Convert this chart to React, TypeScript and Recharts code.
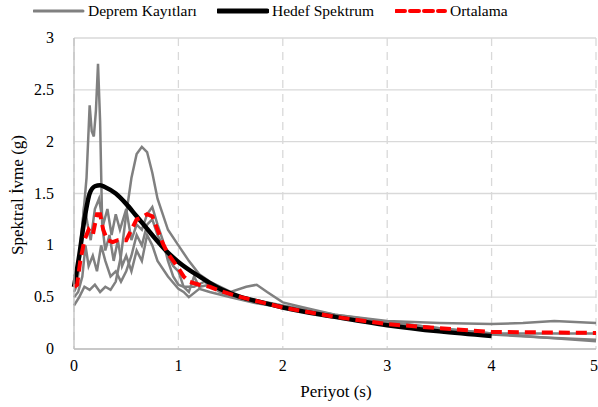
import { LineChart, Line, XAxis, YAxis, CartesianGrid, Legend } from "recharts"

// Deprem kayıtları (T, Sa)
const kayit1 = [
  [0, 0.55], [0.03, 0.62], [0.06, 0.9], [0.09, 1.3], [0.12, 1.65], [0.15, 2.35], [0.17, 2.1], [0.19, 2.05],
  [0.21, 2.3], [0.23, 2.75], [0.25, 2.2], [0.27, 1.2], [0.3, 0.95], [0.34, 1.1], [0.38, 0.85], [0.42, 1.05],
  [0.46, 0.8], [0.5, 0.9], [0.55, 0.75], [0.6, 0.95], [0.65, 0.85], [0.7, 1.1], [0.75, 1.0], [0.8, 0.85],
  [0.9, 0.7], [1.0, 0.58], [1.05, 0.55], [1.1, 0.5], [1.2, 0.58], [1.3, 0.55], [1.5, 0.5], [1.75, 0.44],
  [2, 0.4], [2.5, 0.32], [3, 0.26], [3.5, 0.2], [4, 0.15], [4.5, 0.11], [5, 0.075],
]
const kayit2 = [
  [0, 0.42], [0.05, 0.5], [0.1, 0.6], [0.15, 0.57], [0.2, 0.62], [0.25, 0.55], [0.3, 0.6], [0.35, 0.57],
  [0.4, 0.65], [0.45, 0.9], [0.5, 1.3], [0.55, 1.65], [0.6, 1.88], [0.65, 1.95], [0.7, 1.9], [0.75, 1.7],
  [0.8, 1.45], [0.9, 1.15], [1.0, 1.0], [1.1, 0.85], [1.2, 0.72], [1.3, 0.65], [1.5, 0.55], [1.65, 0.6],
  [1.75, 0.62], [1.85, 0.55], [2, 0.45], [2.2, 0.4], [2.5, 0.33], [3, 0.27], [3.5, 0.25], [4, 0.24],
  [4.3, 0.25], [4.6, 0.27], [5, 0.25],
]
const kayit3 = [
  [0, 0.7], [0.04, 0.8], [0.07, 1.1], [0.1, 1.4], [0.13, 1.2], [0.16, 1.05], [0.2, 1.35], [0.24, 1.45],
  [0.28, 1.2], [0.32, 1.35], [0.36, 1.1], [0.4, 1.3], [0.44, 1.15], [0.5, 1.35], [0.55, 1.05], [0.6, 1.2],
  [0.65, 1.15], [0.7, 1.3], [0.75, 1.37], [0.8, 1.2], [0.85, 1.05], [0.9, 0.85], [0.95, 0.7], [1.0, 0.62],
  [1.05, 0.6], [1.15, 0.6], [1.25, 0.65], [1.4, 0.55], [1.6, 0.5], [2, 0.42], [2.5, 0.33], [3, 0.26],
  [3.5, 0.2], [4, 0.15], [4.5, 0.15], [5, 0.15],
]
const kayit4 = [
  [0, 0.5], [0.04, 0.55], [0.08, 0.7], [0.11, 1.0], [0.14, 0.8], [0.18, 0.9], [0.22, 0.75], [0.26, 1.0],
  [0.3, 0.85], [0.35, 0.7], [0.4, 0.75], [0.45, 0.65], [0.5, 0.75], [0.55, 0.9], [0.6, 1.1], [0.65, 1.0],
  [0.7, 1.2], [0.75, 1.25], [0.8, 1.1], [0.85, 1.0], [0.9, 0.9], [0.95, 0.8], [1.0, 0.75], [1.05, 0.6],
  [1.1, 0.55], [1.15, 0.7], [1.2, 0.6], [1.3, 0.62], [1.4, 0.55], [1.5, 0.52], [1.7, 0.47], [2, 0.4],
  [2.5, 0.31], [3, 0.24], [3.5, 0.19], [4, 0.14], [4.5, 0.11], [5, 0.09],
]
const hedef = [
  [0, 0.6], [0.05, 0.9], [0.1, 1.25], [0.15, 1.5], [0.2, 1.57], [0.25, 1.58], [0.3, 1.56], [0.4, 1.5],
  [0.5, 1.4], [0.6, 1.28], [0.7, 1.16], [0.8, 1.04], [0.9, 0.93], [1.0, 0.84], [1.2, 0.7], [1.4, 0.58],
  [1.6, 0.5], [1.8, 0.45], [2, 0.4], [2.5, 0.31], [3, 0.23], [3.5, 0.17], [4, 0.125],
]
const ortalama = [
  [0, 0.6], [0.03, 0.62], [0.06, 0.85], [0.1, 1.05], [0.14, 1.15], [0.18, 1.1], [0.22, 1.3], [0.25, 1.3],
  [0.28, 1.15], [0.32, 1.05], [0.37, 1.03], [0.42, 1.05], [0.5, 1.05], [0.55, 1.15], [0.6, 1.25], [0.65, 1.27],
  [0.7, 1.3], [0.75, 1.28], [0.8, 1.15], [0.85, 1.02], [0.9, 0.92], [0.95, 0.85], [1.0, 0.78], [1.05, 0.7],
  [1.1, 0.65], [1.2, 0.62], [1.3, 0.6], [1.4, 0.56], [1.6, 0.5], [1.8, 0.45], [2, 0.4], [2.5, 0.31],
  [3, 0.24], [3.5, 0.2], [4, 0.165], [4.5, 0.16], [5, 0.155],
]

const xTicks = [0, 1, 2, 3, 4, 5]
const yTicks = [0, 0.5, 1, 1.5, 2, 2.5, 3]

const toPts = (a: number[][]) => a.map(([t, sa]) => ({ t, sa }))
const kayitlar = [kayit1, kayit2, kayit3, kayit4].map(toPts)

const font = "'Liberation Serif', 'Times New Roman', serif"
const gray = "#808080"
const txt = { fontFamily: font, fontSize: 16, fill: "#000" }
const title = { fontFamily: font, fontSize: 17, fill: "#000" }

function LegendBox() {
  const items = [
    { label: "Deprem Kayıtları", color: gray, w: 3, dash: undefined, x: 33 },
    { label: "Hedef Spektrum", color: "#000", w: 5, dash: undefined, x: 217 },
    { label: "Ortalama", color: "#ff0000", w: 4, dash: "9 5", x: 395 },
  ]
  return (
    <div style={{ position: "relative", height: 26, fontFamily: font, fontSize: 15.5, color: "#000" }}>
      {items.map((it) => (
        <div key={it.label} style={{ position: "absolute", left: it.x, top: 0, display: "flex", alignItems: "center", whiteSpace: "nowrap" }}>
          <svg width={52} height={12}>
            <line x1={1} y1={6} x2={50} y2={6} stroke={it.color} strokeWidth={it.w} strokeDasharray={it.dash} strokeLinecap="round" />
          </svg>
          <span style={{ marginLeft: 3 }}>{it.label}</span>
        </div>
      ))}
    </div>
  )
}

function XTick({ x, y, payload }: any) {
  return (
    <text x={x} y={y + 14} textAnchor="middle" style={txt}>
      {payload.value}
    </text>
  )
}

function YTick({ x, y, payload }: any) {
  return (
    <text x={x - 2} y={y + 5} textAnchor="end" style={txt}>
      {payload.value}
    </text>
  )
}

export default function App() {
  return (
    <div style={{ position: "absolute", left: 0, top: 0, width: 598, height: 407, background: "#fff", fontFamily: font }}>
      <LineChart width={598} height={407} margin={{ top: 12, right: 2, left: 0, bottom: 0 }} style={{ fontFamily: font }}>
        <CartesianGrid horizontal={true} vertical={false} stroke="#d9d9d9" strokeWidth={1.3} />
        <CartesianGrid horizontal={false} vertical={true} stroke="#d9d9d9" strokeWidth={1.3} strokeDasharray="8 6" />
        <XAxis
          type="number"
          dataKey="t"
          domain={[0, 5]}
          ticks={xTicks}
          allowDuplicatedCategory={false}
          tick={<XTick />}
          tickLine={false}
          axisLine={{ stroke: "#bfbfbf", strokeWidth: 1.3 }}
          tickMargin={2}
          height={58}
        />
        <YAxis
          type="number"
          domain={[0, 3]}
          ticks={yTicks}
          tick={<YTick />}
          tickLine={false}
          axisLine={{ stroke: "#bfbfbf", strokeWidth: 1.3 }}
          tickMargin={12}
          width={74}
        />
        <Legend verticalAlign="top" wrapperStyle={{ top: 2, left: 0, width: 598 }} content={() => <LegendBox />} />
        {kayitlar.map((d, i) => (
          <Line key={i} data={d} dataKey="sa" type="linear" stroke={gray} strokeWidth={2.5} dot={false} isAnimationActive={false} legendType="none" />
        ))}
        <Line data={toPts(hedef)} dataKey="sa" type="monotone" stroke="#000" strokeWidth={4.5} dot={false} isAnimationActive={false} />
        <Line data={toPts(ortalama)} dataKey="sa" type="linear" stroke="#ff0000" strokeWidth={4} strokeDasharray="11 6" dot={false} isAnimationActive={false} />
        <text x={336} y={397} textAnchor="middle" style={title}>Periyot (s)</text>
        <text x={23} y={195} transform="rotate(-90 23 195)" textAnchor="middle" style={title}>Spektral İvme (g)</text>
      </LineChart>
    </div>
  )
}
